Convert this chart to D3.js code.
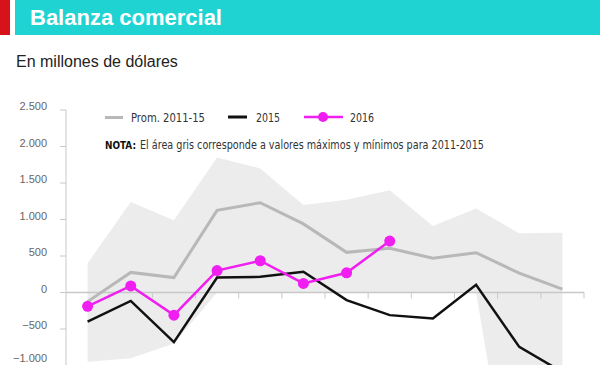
<!DOCTYPE html>
<html>
<head>
<meta charset="utf-8">
<script src="https://cdn.jsdelivr.net/npm/d3@7"></script>
<style>
  body { margin: 0; background: #fff; }
  svg { display: block; font-family: "Liberation Sans", Arial, sans-serif; }
  .narrow { font-family: "Liberation Sans Narrow", "DejaVu Sans Condensed", sans-serif; }
</style>
</head>
<body>
<svg width="600" height="365"></svg>
<script>
var svg = d3.select("svg"),
    width = +svg.attr("width"),
    height = +svg.attr("height");

// months (ene..dic)
var months = ["Ene", "Feb", "Mar", "Abr", "May", "Jun", "Jul", "Ago", "Sep", "Oct", "Nov", "Dic"];
var prom = [-125, 275, 205, 1125, 1230, 940, 550, 605, 470, 545, 265, 45];
var y2015 = [-400, -115, -680, 205, 215, 285, -105, -310, -355, 105, -745, -1090];
var y2016 = [-190, 90, -310, 300, 435, 125, 270, 705];
var maxs = [400, 1240, 990, 1850, 1700, 1200, 1270, 1400, 910, 1150, 810, 820];
var mins = [-950, -900, -700, 0, 0, 0, 0, 0, 0, 0, -3500, -3500];
var yTicks = [-1000, -500, 0, 500, 1000, 1500, 2000, 2500];

var x = d3.scaleBand().domain(months).range([66, 584]);
var y = d3.scaleLinear().domain([-1000, 2500]).range([365.5, 110]);
var cx = function(i) { return x(months[i]) + x.bandwidth() / 2; };
var fmt = function(d) { return d3.format(",")(d).replace(/,/g, "."); };

// header
svg.append("rect").attr("x", 0).attr("y", 0).attr("width", 10).attr("height", 35).attr("fill", "#d8121b");
svg.append("rect").attr("x", 15).attr("y", 0).attr("width", width - 15).attr("height", 35).attr("fill", "#1fd3d3");
svg.append("text")
    .attr("x", 30).attr("y", 25)
    .attr("fill", "#fff")
    .attr("font-size", "22px")
    .attr("font-weight", "bold")
    .text("Balanza comercial");

svg.append("text")
    .attr("x", 16).attr("y", 67)
    .attr("fill", "#222")
    .attr("font-size", "16px")
    .text("En millones de dólares");

// range area
var area = d3.area()
    .x(function(d, i) { return cx(i); })
    .y0(function(d, i) { return y(mins[i]); })
    .y1(function(d) { return y(d); });

svg.append("path")
    .datum(maxs)
    .attr("fill", "#ececec")
    .attr("d", area);

// y axis
var yAxis = svg.append("g");
yAxis.append("line")
    .attr("x1", 66).attr("x2", 66)
    .attr("y1", y(2500)).attr("y2", height)
    .attr("stroke", "#c8c8c8");
yAxis.selectAll(".tk")
  .data(yTicks)
  .enter().append("line")
    .attr("x1", 60).attr("x2", 66)
    .attr("y1", function(d) { return y(d); })
    .attr("y2", function(d) { return y(d); })
    .attr("stroke", "#c8c8c8");
yAxis.selectAll(".lbl")
  .data(yTicks)
  .enter().append("text")
    .attr("x", 47)
    .attr("y", function(d) { return Math.min(y(d), height - 3); })
    .attr("text-anchor", "end")
    .attr("font-size", "11px")
    .attr("fill", "#666")
    .text(fmt);

// zero line + month ticks
svg.append("line")
    .attr("x1", 66).attr("x2", 584)
    .attr("y1", y(0)).attr("y2", y(0))
    .attr("stroke", "#c8c8c8").attr("stroke-width", 1.5);
svg.selectAll(".xt")
  .data(months.slice(1).concat(["end"]))
  .enter().append("line")
    .attr("x1", function(d, i) { return x(months[0]) + x.bandwidth() * (i + 1); })
    .attr("x2", function(d, i) { return x(months[0]) + x.bandwidth() * (i + 1); })
    .attr("y1", y(0)).attr("y2", y(0) + 6)
    .attr("stroke", "#c8c8c8");

var line = d3.line()
    .x(function(d, i) { return cx(i); })
    .y(function(d) { return y(d); });

svg.append("path").datum(prom)
    .attr("fill", "none").attr("stroke", "#b8b8b8").attr("stroke-width", 3)
    .attr("d", line);
svg.append("path").datum(y2015)
    .attr("fill", "none").attr("stroke", "#111").attr("stroke-width", 2.5)
    .attr("d", line);
svg.append("path").datum(y2016)
    .attr("fill", "none").attr("stroke", "#f01ef0").attr("stroke-width", 2.5)
    .attr("d", line);
svg.selectAll(".dot")
  .data(y2016)
  .enter().append("circle")
    .attr("cx", function(d, i) { return cx(i); })
    .attr("cy", function(d) { return y(d); })
    .attr("r", 5.5)
    .attr("fill", "#f01ef0");

// legend
var lg = svg.append("g").attr("class", "narrow").attr("font-size", "13px").attr("fill", "#333");
lg.append("line").attr("x1", 105).attr("x2", 123).attr("y1", 117.5).attr("y2", 117.5)
    .attr("stroke", "#b8b8b8").attr("stroke-width", 3);
lg.append("text").attr("x", 131).attr("y", 122).attr("textLength", 74).attr("lengthAdjust", "spacingAndGlyphs").text("Prom. 2011-15");
lg.append("line").attr("x1", 228).attr("x2", 247).attr("y1", 117).attr("y2", 117)
    .attr("stroke", "#111").attr("stroke-width", 3);
lg.append("text").attr("x", 256).attr("y", 122).attr("textLength", 24).attr("lengthAdjust", "spacingAndGlyphs").text("2015");
lg.append("line").attr("x1", 304).attr("x2", 343).attr("y1", 117).attr("y2", 117)
    .attr("stroke", "#f01ef0").attr("stroke-width", 2.5);
lg.append("circle").attr("cx", 323).attr("cy", 117).attr("r", 5).attr("fill", "#f01ef0");
lg.append("text").attr("x", 350).attr("y", 122).attr("textLength", 24).attr("lengthAdjust", "spacingAndGlyphs").text("2016");

lg.append("text").attr("x", 105).attr("y", 149).attr("font-size", "11px")
    .attr("font-weight", "bold").attr("fill", "#111")
    .attr("textLength", 31).attr("lengthAdjust", "spacingAndGlyphs")
    .text("NOTA:");
lg.append("text").attr("x", 140).attr("y", 149).attr("font-size", "12.5px")
    .attr("textLength", 344).attr("lengthAdjust", "spacingAndGlyphs")
    .text("El área gris corresponde a valores máximos y mínimos para 2011-2015");
</script>
</body>
</html>
